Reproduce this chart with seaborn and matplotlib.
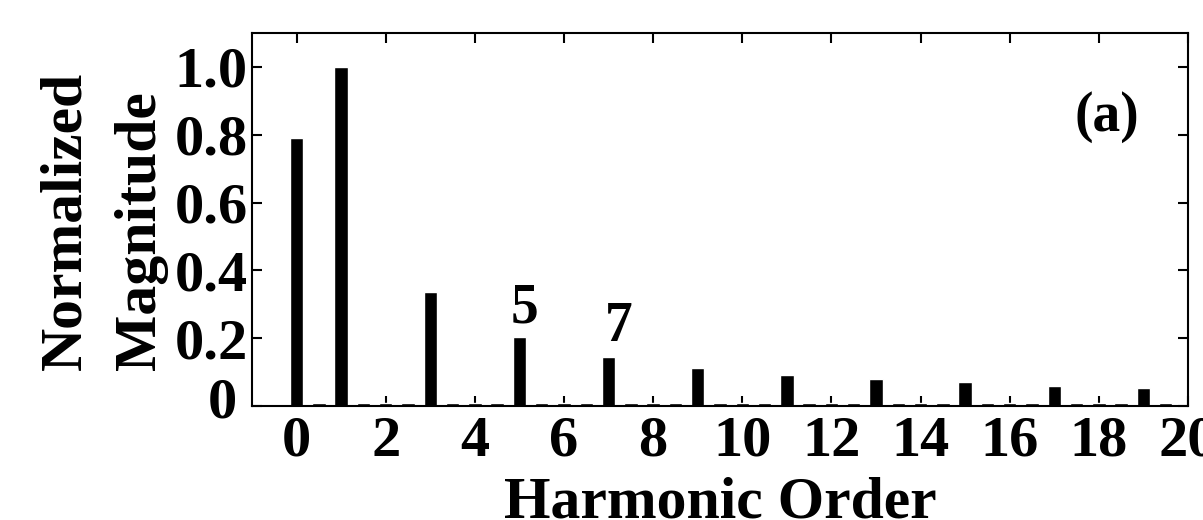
import numpy as np
import pandas as pd
import matplotlib
matplotlib.use("Agg")
import matplotlib.pyplot as plt
import matplotlib.transforms as mtransforms
import seaborn as sns

# Data
orders = [0.0, 0.5, 1.0, 1.5, 2.0, 2.5, 3.0, 3.5, 4.0, 4.5,
          5.0, 5.5, 6.0, 6.5, 7.0, 7.5, 8.0, 8.5, 9.0, 9.5,
          10.0, 10.5, 11.0, 11.5, 12.0, 12.5, 13.0, 13.5, 14.0, 14.5,
          15.0, 15.5, 16.0, 16.5, 17.0, 17.5, 18.0, 18.5, 19.0, 19.5]
magnitudes = [0.79, 0.01, 1.0, 0.01, 0.01, 0.01, 0.337, 0.01, 0.01, 0.01,
              0.204, 0.01, 0.01, 0.01, 0.146, 0.01, 0.01, 0.01, 0.113, 0.01,
              0.01, 0.01, 0.092, 0.01, 0.01, 0.01, 0.079, 0.01, 0.01, 0.01,
              0.072, 0.01, 0.01, 0.01, 0.060, 0.01, 0.01, 0.01, 0.053, 0.01]
xticks = [0, 2, 4, 6, 8, 10, 12, 14, 16, 18, 20]
yticks = [0, 0.2, 0.4, 0.6, 0.8, 1.0]
ytick_labels = ["0", "0.2", "0.4", "0.6", "0.8", "1.0"]
annotations = [("5", 5.12, 0.247), ("7", 7.22, 0.191)]

sns.set_style("ticks")
plt.rcParams["font.family"] = ["Liberation Serif", "DejaVu Serif"]
plt.rcParams["font.weight"] = "bold"
plt.rcParams["axes.labelweight"] = "bold"
plt.rcParams["text.color"] = "black"
plt.rcParams["axes.labelcolor"] = "black"
plt.rcParams["xtick.color"] = "black"
plt.rcParams["ytick.color"] = "black"
plt.rcParams["axes.edgecolor"] = "black"

df = pd.DataFrame({"order": orders, "mag": magnitudes})

fig = plt.figure(figsize=(12.03, 5.20), dpi=100)
ax = fig.add_axes([0.2095, 0.2192, 0.778, 0.7173])

sns.barplot(data=df, x="order", y="mag", native_scale=True, color="black",
            width=0.6, errorbar=None, ax=ax, saturation=1)

ax.set_xlim(-1, 20)
ax.set_ylim(0, 1.1)
ax.set_xticks(xticks)
ax.set_xticklabels([str(t) for t in xticks])
ax.set_yticks(yticks)
ax.set_yticklabels(ytick_labels)

for s in ax.spines.values():
    s.set_visible(True)
    s.set_color("black")
    s.set_linewidth(1.5)

ax.tick_params(axis="both", which="major", direction="in", length=7.5, width=1.5,
               top=True, right=True, labelsize=42, colors="black")
ax.tick_params(axis="x", pad=7)
ax.tick_params(axis="y", pad=3)

# the "0" label sits a little left of and above its tick in the reference
zero_lab = ax.get_yticklabels()[0]
zero_lab.set_transform(zero_lab.get_transform() +
                       mtransforms.ScaledTranslation(-0.11, 0.09, fig.dpi_scale_trans))

ax.set_xlabel("Harmonic Order", fontsize=43, fontweight="bold", color="black")
ax.xaxis.set_label_coords(0.5, -0.19)
ax.set_ylabel("Normalized\nMagnitude", fontsize=43, fontweight="bold",
              ha="left", linespacing=1.5, color="black")
ax.yaxis.set_label_coords(-0.090, 0.096)

for txt, xv, yv in annotations:
    ax.text(xv, yv, txt, ha="center", va="baseline", fontsize=40,
            fontweight="bold", color="black")

ax.text(0.913, 0.775, "(a)", transform=ax.transAxes,
        ha="center", va="center", fontsize=40, fontweight="bold", color="black")

fig.savefig("out.png", dpi=100)
